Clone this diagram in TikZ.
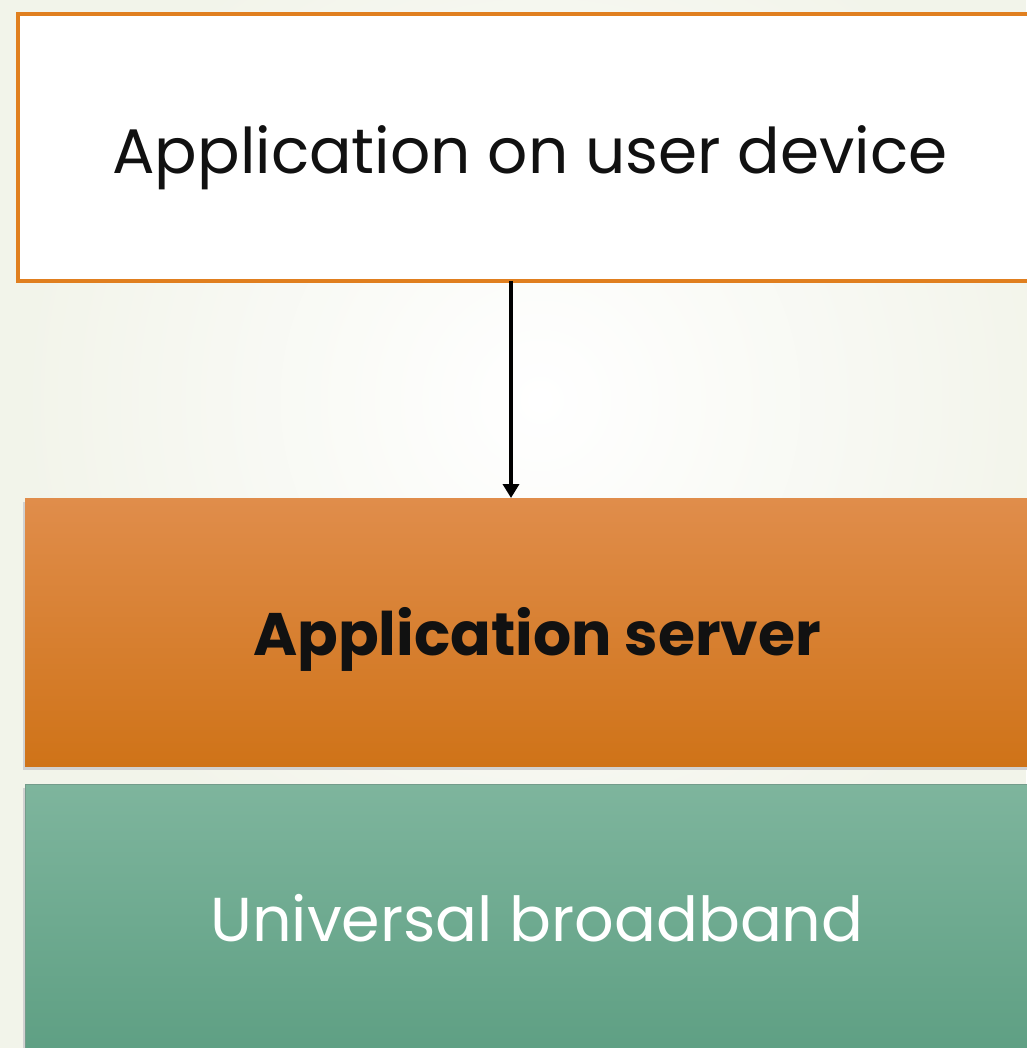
\documentclass[tikz,border=0pt]{standalone}
\usepackage{fontspec}
\setmainfont{Poppins}
\usetikzlibrary{arrows.meta}
\definecolor{bg}{HTML}{F2F4EA}
\definecolor{frameor}{HTML}{E07F1F}
\definecolor{ortop}{HTML}{E08D4B}
\definecolor{orbot}{HTML}{CF7318}
\definecolor{grtop}{HTML}{7EB59D}
\definecolor{grbot}{HTML}{5E9F83}
\definecolor{txt}{HTML}{111111}
\tikzset{
  boxbase/.style={anchor=north west, inner sep=0pt, outer sep=0pt, minimum width=1024pt, text height=0.7em, text depth=0pt},
  topbox/.style={boxbase, draw=frameor, line width=4.5pt, fill=white,
    minimum height=267pt, font=\fontsize{63}{70}\selectfont, text=txt},
  serverbox/.style={boxbase, top color=ortop, bottom color=orbot,
    minimum height=268pt, font=\fontsize{60}{66}\selectfont\bfseries, text=txt},
  bandbox/.style={boxbase, top color=grtop, bottom color=grbot, draw=grtop!80!black!90, line width=0.8pt,
    minimum height=272pt, font=\fontsize{62}{68}\selectfont, text=white},
  arr/.style={line width=4.5pt, -{Triangle[length=14pt,width=16pt]}, black}
}
\begin{document}
\begin{tikzpicture}[x=1pt,y=-1pt]
\useasboundingbox (0,0) rectangle (1026,1048);
\fill[bg] (0,0) rectangle (1026,1048);
\shade[inner color=white, outer color=bg] (540,400) circle (520);
\fill[black!18] (23,502) rectangle (1060,770);
\fill[black!18] (23,788) rectangle (1060,1060);
\node[topbox] (user) at (18,14) {\raisebox{-23pt}{Application on user device}};
\node[serverbox] (server) at (25,498) {\raisebox{-20pt}{Application server}};
\node[bandbox] (band) at (25,784) {\raisebox{-18pt}{Universal broadband}};
\draw[arr] ([xshift=-19pt]user.south) -- ([xshift=-26pt]server.north);
\end{tikzpicture}
\end{document}
